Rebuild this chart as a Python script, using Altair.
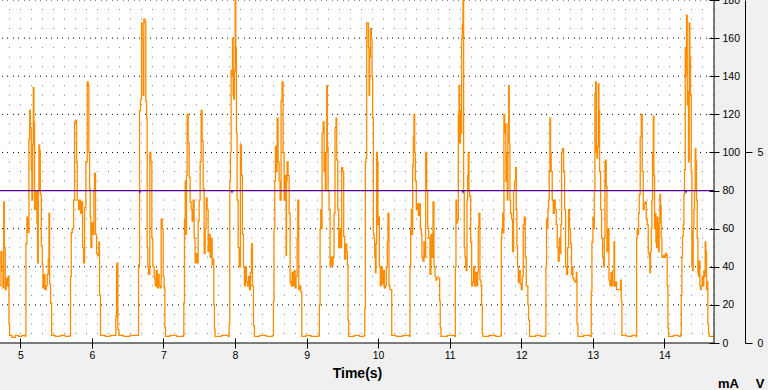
import altair as alt
import pandas as pd

# ---- data ----
T = [4.716, 4.729, 4.743, 4.757, 4.767, 4.776, 4.790, 4.804, 4.818, 4.832, 4.841, 4.850, 4.883, 4.929, 4.976, 5.023, 5.069,
     5.078, 5.092, 5.106, 5.120, 5.130, 5.139, 5.153, 5.162, 5.172, 5.181, 5.190, 5.199, 5.218, 5.232, 5.241, 5.251, 5.260,
     5.269, 5.279, 5.293, 5.307, 5.316, 5.330, 5.344, 5.362, 5.376, 5.390, 5.400, 5.409, 5.423, 5.437, 5.488, 5.558, 5.628,
     5.693, 5.702, 5.712, 5.726, 5.744, 5.758, 5.772, 5.786, 5.795, 5.814, 5.828, 5.842, 5.856, 5.870, 5.884, 5.898, 5.916,
     5.935, 5.949, 5.958, 5.968, 5.977, 5.986, 6.000, 6.014, 6.028, 6.037, 6.051, 6.065, 6.079, 6.098, 6.107, 6.121, 6.186,
     6.256, 6.326, 6.335, 6.345, 6.354, 6.363, 6.377, 6.442, 6.535, 6.643, 6.652, 6.666, 6.680, 6.694, 6.703,
     6.717, 6.726, 6.745, 6.754, 6.764, 6.773, 6.782, 6.791, 6.810, 6.824, 6.838, 6.852, 6.871, 6.885, 6.899, 6.913, 6.927,
     6.940, 6.954, 6.968, 6.982, 6.996, 7.010, 7.020, 7.029, 7.089, 7.183, 7.276, 7.285, 7.294, 7.304, 7.313, 7.322, 7.331,
     7.345, 7.359, 7.373, 7.387, 7.401, 7.415, 7.429, 7.443, 7.457, 7.471, 7.485, 7.499, 7.513, 7.527, 7.541, 7.555, 7.569,
     7.583, 7.597, 7.611, 7.625, 7.639, 7.653, 7.667, 7.681, 7.695, 7.704, 7.713, 7.722, 7.811, 7.904, 7.918, 7.927, 7.936,
     7.946, 7.955, 7.965, 7.974, 7.983, 7.992, 8.002, 8.011, 8.020, 8.030, 8.044, 8.058, 8.076, 8.090, 8.104, 8.118, 8.132,
     8.146, 8.160, 8.174, 8.188, 8.202, 8.216, 8.230, 8.244, 8.258, 8.272, 8.346, 8.439, 8.523, 8.537, 8.546, 8.556, 8.565,
     8.574, 8.588, 8.602, 8.616, 8.630, 8.644, 8.658, 8.672, 8.686, 8.700,
     8.714, 8.720, 8.728, 8.742, 8.756, 8.770, 8.784, 8.798, 8.812, 8.826, 8.840, 8.854, 8.868, 8.877, 8.891, 8.905, 8.919,
     8.933, 8.993, 9.063, 9.170, 9.179, 9.189, 9.198, 9.207, 9.217, 9.231, 9.245, 9.254, 9.263, 9.273, 9.282, 9.291, 9.301,
     9.315, 9.329, 9.343, 9.357, 9.371, 9.384, 9.398, 9.412, 9.422, 9.436, 9.450, 9.464, 9.478, 9.491, 9.505, 9.519, 9.533,
     9.547, 9.561, 9.571, 9.580, 9.589, 9.668, 9.738, 9.803, 9.813, 9.822, 9.831, 9.841, 9.855, 9.864, 9.873, 9.882, 9.892,
     9.906, 9.915, 9.924, 9.934, 9.943, 9.952, 9.962, 9.971, 9.980, 9.989, 9.999, 10.008, 10.017, 10.031, 10.045, 10.059,
     10.073, 10.087, 10.101, 10.115, 10.129, 10.138, 10.152, 10.166, 10.180, 10.190, 10.250, 10.343, 10.436, 10.446, 10.455,
     10.464, 10.474, 10.483, 10.492, 10.501, 10.511, 10.520, 10.534, 10.548, 10.562, 10.576, 10.590, 10.604, 10.613, 10.627,
     10.641, 10.651, 10.665, 10.679, 10.693, 10.707,
     10.725, 10.739, 10.753, 10.767, 10.781, 10.795, 10.809, 10.823, 10.851, 10.860, 10.869, 10.879, 10.967, 11.069, 11.079,
     11.088, 11.097, 11.111, 11.121, 11.130, 11.139, 11.149, 11.158, 11.167, 11.177, 11.186, 11.195, 11.204, 11.214, 11.223,
     11.232, 11.242, 11.251, 11.260, 11.270, 11.279, 11.293, 11.307, 11.321, 11.335, 11.349, 11.363, 11.377, 11.391, 11.400,
     11.409, 11.423, 11.437, 11.446, 11.456, 11.465, 11.549, 11.642, 11.712, 11.721, 11.730, 11.740, 11.749, 11.758, 11.768,
     11.777, 11.786, 11.796, 11.805, 11.814, 11.824, 11.833, 11.842, 11.851, 11.865, 11.879, 11.893, 11.907, 11.921, 11.931,
     11.940, 11.949, 11.959, 11.973, 11.986, 12.000, 12.014, 12.028, 12.042, 12.056, 12.070, 12.084, 12.093, 12.103, 12.117,
     12.201, 12.270, 12.336, 12.345, 12.354, 12.363, 12.373, 12.382, 12.391, 12.401, 12.410, 12.419, 12.433, 12.447, 12.461,
     12.475, 12.489, 12.503, 12.517, 12.531, 12.545, 12.554, 12.564, 12.578, 12.592, 12.606, 12.620, 12.634, 12.648, 12.662,
     12.675, 12.689, 12.703,
     12.709, 12.723, 12.737, 12.751, 12.770, 12.779, 12.793, 12.872, 12.965, 12.979, 12.988, 13.002, 13.012, 13.021, 13.030,
     13.040, 13.049, 13.058, 13.067, 13.077, 13.086, 13.095, 13.109, 13.123, 13.137, 13.151, 13.161, 13.170, 13.179, 13.188,
     13.198, 13.212, 13.226, 13.240, 13.254, 13.268, 13.282, 13.296, 13.305, 13.319, 13.333, 13.347, 13.375, 13.389, 13.398,
     13.407, 13.477, 13.547, 13.603, 13.612, 13.621, 13.631, 13.640, 13.649, 13.663, 13.677, 13.691, 13.705, 13.719, 13.733,
     13.747, 13.761, 13.775, 13.789, 13.798, 13.807, 13.817, 13.826, 13.835, 13.845, 13.854, 13.863, 13.873, 13.882, 13.891,
     13.901, 13.910, 13.919, 13.928, 13.938, 13.947, 13.956, 13.966, 13.975, 13.989, 14.003, 14.017, 14.031, 14.040, 14.050,
     14.059, 14.129, 14.199, 14.226, 14.236, 14.245, 14.254, 14.264, 14.273, 14.282, 14.292, 14.301, 14.310, 14.320, 14.329,
     14.338, 14.348, 14.357, 14.366, 14.375, 14.385, 14.394, 14.403, 14.413, 14.422, 14.431, 14.441, 14.450, 14.459, 14.469,
     14.478, 14.487, 14.497, 14.506, 14.515, 14.529, 14.543, 14.552, 14.562, 14.571, 14.580, 14.590, 14.599, 14.608, 14.618,
     14.627, 14.711]

MA = [30, 48, 38, 29, 74, 50, 28, 34, 30, 35, 10, 4, 3, 4, 3.5, 4, 3.5,
      52, 66, 58, 107, 122, 113, 91, 75, 104, 134, 116, 70, 80, 63, 42, 80, 104,
      101, 78, 51, 41, 29, 36, 28, 30, 36, 44, 68, 31, 21, 4, 3.5, 4, 3.5,
      4, 35, 58, 60, 75, 116, 117, 95, 75, 70, 75, 68, 74, 50, 42, 71, 95,
      137, 135, 100, 81, 66, 50, 63, 57, 80, 89, 57, 47, 46, 53, 25, 4, 3.5,
      4, 4, 14, 41, 42, 7, 4, 3.5, 4, 4, 41, 122, 128, 168, 159,
      130, 170, 168, 127, 118, 50, 40, 36, 100, 95, 55, 40, 34, 30, 38, 29, 36,
      30, 29, 65, 60, 35, 29, 8, 3.5, 4, 3.5, 4, 21, 65, 85, 57, 88, 120,
      105, 87, 74, 70, 64, 75, 55, 42, 47, 42, 64, 75, 95, 122, 106, 81, 47,
      60, 76, 70, 48, 57, 45, 55, 41, 44, 20, 7, 3.5, 4, 3.5, 10, 85, 100,
      143, 140, 160, 130, 128, 143, 180, 155, 110, 75, 50, 40, 104, 88, 57, 40, 30,
      40, 32, 30, 35, 28, 37, 52, 30, 9, 3.5, 4, 3.5, 4, 22, 60, 85, 103,
      90, 118, 95, 85, 75, 127, 137, 100, 75, 88,
      46, 85, 95, 88, 68, 32, 30, 37, 30, 38, 29, 35, 55, 75, 28, 30, 27,
      3.5, 4, 3.5, 4, 20, 60, 70, 60, 110, 116, 90, 100, 80, 100, 135, 103, 80,
      70, 40, 45, 41, 45, 68, 113, 118, 96, 70, 50, 60, 50, 92, 90, 56, 44,
      52, 48, 41, 12, 3.5, 4, 3.5, 4, 18, 95, 97, 168, 168, 155, 130, 150, 165,
      160, 140, 118, 57, 55, 45, 37, 52, 100, 95, 62, 66, 40, 30, 40, 31,
      38, 29, 30, 40, 53, 68, 30, 28, 28, 4, 3.5, 4, 3.5, 40, 60,
      70, 57, 93, 108, 120, 100, 85, 70, 73, 67, 73, 60, 57, 45, 43,
      53, 45, 100, 80, 60, 55,
      36, 57, 45, 74, 40, 35, 33, 34, 34, 22, 8, 3.5, 4, 3.5, 40,
      75, 63, 65, 120, 135, 105, 122, 110, 160, 167, 180, 80, 50, 45, 40,
      38, 75, 88, 100, 80, 77, 53, 30, 32, 40, 30, 37, 30, 37, 61,
      68, 33, 30, 20, 5, 3.5, 4, 3.5, 4, 55, 60, 68, 58, 120, 110,
      115, 85, 100, 75, 115, 135, 105, 75, 68, 65, 48, 80, 85, 92, 70,
      51, 40, 32, 38, 31, 28, 35, 62, 66, 45, 30, 30, 20, 12, 3.5,
      4, 3.5, 4, 40, 65, 60, 70, 75, 90, 118, 100, 90, 75, 68, 75,
      70, 62, 50, 43, 55, 47, 62, 100, 102, 90, 70, 40, 36, 50, 70,
      60, 52, 36,
      40, 34, 33, 32, 37, 10, 3.5, 4, 3.5, 27, 53, 66, 60, 80, 131,
      137, 100, 97, 103, 136, 122, 90, 70, 55, 45, 40, 55, 95, 96, 82,
      48, 60, 33, 30, 37, 30, 38, 53, 30, 32, 28, 28, 28, 33, 22,
      4, 3.5, 4, 3.5, 55, 60, 57, 68, 78, 108, 120, 90, 70, 73, 74,
      65, 62, 47, 45, 37, 48, 60, 75, 100, 119, 88, 60, 68, 53, 50,
      66, 55, 48, 63, 78, 72, 55, 45, 45, 46, 45, 47, 46, 30, 8,
      3.5, 4, 3.5, 4, 25, 45, 56, 62, 78, 91, 155, 140, 172, 125, 132,
      95, 168, 150, 130, 90, 40, 38, 60, 70, 80, 102, 96, 75, 55, 37,
      35, 43, 30, 28, 30, 35, 30, 38, 35, 53, 48, 28, 32, 10, 5,
      3.5, 3.5]

V_T = [4.716, 6.665, 6.672, 6.680, 7.950, 7.958, 7.966, 11.178, 11.186, 11.193, 14.296, 14.303, 14.310, 14.694]
V_V = [4.0, 4.0, 3.96, 4.0, 4.0, 3.96, 4.0, 4.0, 3.96, 4.0, 4.0, 3.96, 4.0, 4.0]

X_TICKS = [5, 6, 7, 8, 9, 10, 11, 12, 13, 14]
MA_TICKS = [0, 20, 40, 60, 80, 100, 120, 140, 160, 180]
V_TICKS = [0, 5]
MAJOR = [20, 40, 60, 80, 100, 120, 140, 160, 180]
MINOR = [5, 10, 15, 25, 30, 35, 45, 50, 55, 65, 70, 75, 85, 90, 95, 105, 110, 115,
         125, 130, 135, 145, 150, 155, 165, 170, 175]
X_MIN, X_MAX = 4.716, 14.694

FONT = "Liberation Sans"

xs = alt.Scale(domain=[X_MIN, X_MAX], nice=False, zero=False)
ys = alt.Scale(domain=[0, 180], nice=False, zero=True)
vs = alt.Scale(domain=[0, 9], nice=False, zero=True)

X_AXIS = alt.Axis(values=X_TICKS, orient="bottom", offset=-5, domain=False, tickSize=10,
                  tickColor="black", labelColor="black", labelFont=FONT, labelFontSize=10.5,
                  labelPadding=2, labelFlush=False, labelOverlap=False, format="d", grid=False,
                  title="Time(s)", titleFont=FONT, titleFontSize=14, titleFontWeight="bold",
                  titleColor="black", titleBaseline="middle", titleY=35)

MA_AXIS = alt.Axis(values=MA_TICKS, orient="right", offset=-5, domain=False, tickSize=10,
                   tickColor="black", labelColor="black", labelFont=FONT, labelFontSize=10.5,
                   labelPadding=3, labelFlush=False, labelOverlap=False, grid=False,
                   title="mA", titleAngle=0, titleX=19, titleY=383, titleAlign="center",
                   titleBaseline="middle", titleFont=FONT, titleFontSize=13,
                   titleFontWeight="bold", titleColor="black")

V_AXIS = alt.Axis(values=V_TICKS, orient="right", offset=31, domain=True, domainColor="black",
                  tickSize=7, tickColor="black", labelColor="black", labelFont=FONT,
                  labelFontSize=10.5, labelPadding=5, labelFlush=False, labelOverlap=False,
                  grid=False, title="V", titleAngle=0, titleX=14.5, titleY=383,
                  titleAlign="center", titleBaseline="middle", titleFont=FONT,
                  titleFontSize=13, titleFontWeight="bold", titleColor="black")

minor = alt.Chart(pd.DataFrame({"v": MINOR})).mark_rule(
    color="#7a8a9a", strokeWidth=1, strokeDash=[1, 10]
).encode(y=alt.Y("v:Q", scale=ys, axis=None))

major = alt.Chart(pd.DataFrame({"v": MAJOR})).mark_rule(
    color="black", strokeWidth=1, strokeDash=[1, 4, 1, 5], strokeDashOffset=9
).encode(y=alt.Y("v:Q", scale=ys, axis=None))

current = alt.Chart(pd.DataFrame({"t": T, "mA": MA})).mark_line(
    color="#ff8c00", strokeWidth=1.3, interpolate="step-after", clip=True
).encode(
    x=alt.X("t:Q", scale=xs, axis=X_AXIS),
    y=alt.Y("mA:Q", scale=ys, axis=MA_AXIS),
)

volt = alt.Chart(pd.DataFrame({"t": V_T, "v": V_V})).mark_line(
    color="#5a0096", strokeWidth=1.2, clip=True
).encode(
    x=alt.X("t:Q", scale=xs, axis=X_AXIS),
    y=alt.Y("v:Q", scale=vs, axis=V_AXIS),
)

x_base = alt.Chart(pd.DataFrame({"v": [0]})).mark_rule(color="black", strokeWidth=1).encode(
    y=alt.Y("v:Q", scale=ys, axis=None)
)
y_base = alt.Chart(pd.DataFrame({"t": [X_MAX]})).mark_rule(color="black", strokeWidth=1).encode(
    x=alt.X("t:Q", scale=xs, axis=X_AXIS)
)

chart = alt.layer(minor, major, current, volt, x_base, y_base).resolve_scale(
    y="independent"
).properties(
    width=714,
    height=343,
    background="#f0f0f0",
    padding={"left": 0, "top": 0, "right": 54, "bottom": 47},
    autosize=alt.AutoSizeParams(type="none"),
).configure_view(fill="white", stroke=None)

chart.save("out.html", embed_options={"renderer": "svg", "actions": False})
